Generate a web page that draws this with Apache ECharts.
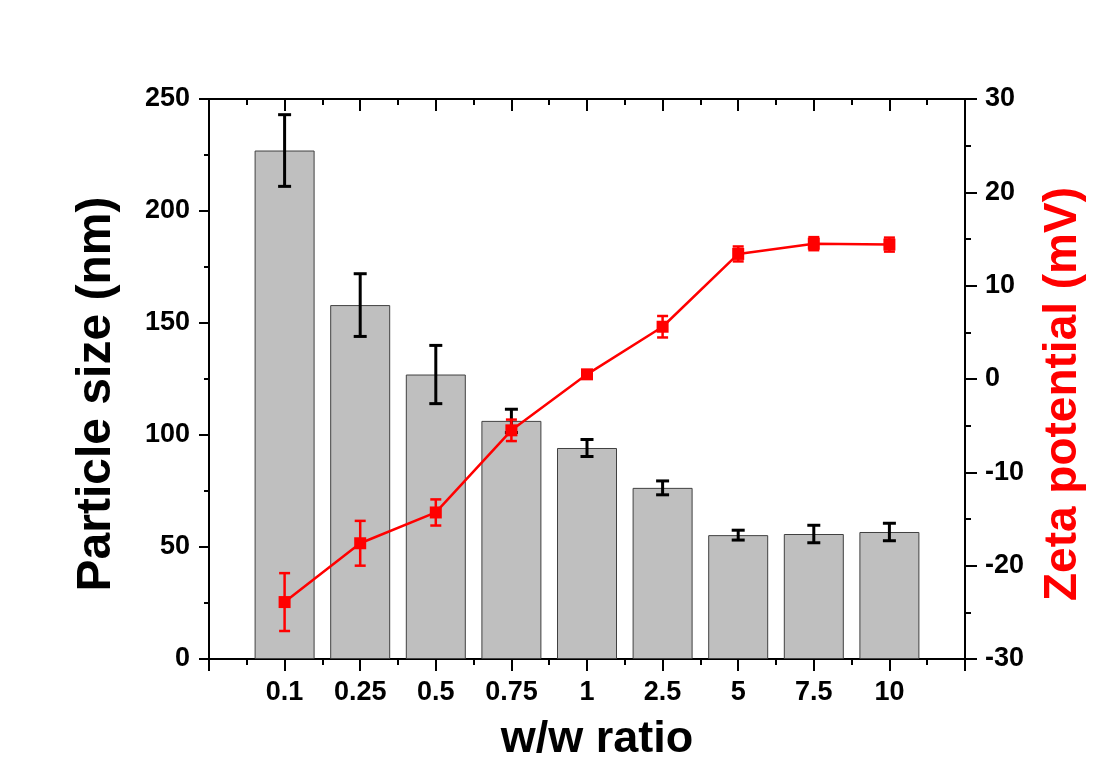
<!DOCTYPE html>
<html>
<head>
<meta charset="utf-8">
<script src="https://cdn.jsdelivr.net/npm/echarts@6/dist/echarts.min.js"></script>
<style>
  html, body { margin: 0; padding: 0; background: #fff; }
  #chart { width: 1104px; height: 778px; }
</style>
</head>
<body>
<div id="chart"></div>
<script>
// ---------- data ----------
const ratios = ['0.1', '0.25', '0.5', '0.75', '1', '2.5', '5', '7.5', '10']
const sizeMean = [227, 158, 127, 106.3, 94.2, 76.4, 55.3, 55.8, 56.7]     // nm
const sizeErr = [16, 14, 13, 5.2, 3.8, 3.1, 2.2, 3.9, 3.9]
const zetaMean = [-23.9, -17.6, -14.3, -5.5, 0.5, 5.6, 13.4, 14.5, 14.4]  // mV
const zetaErr = [3.1, 2.4, 1.4, 1.15, 0.3, 1.15, 0.8, 0.7, 0.75]

const font = "'Liberation Sans', Arial, sans-serif"

// error bar drawn with a custom series: [x, low, high]
function errorBar(capW, color, width) {
  return function (params, api) {
    let x = api.value(0)
    let lo = api.coord([x, api.value(1)])
    let hi = api.coord([x, api.value(2)])
    let h = capW / 2
    let style = { stroke: color, lineWidth: width }
    return {
      type: 'group',
      children: [
        { type: 'line', shape: { x1: hi[0], y1: hi[1], x2: lo[0], y2: lo[1] }, style: style },
        { type: 'line', shape: { x1: hi[0] - h, y1: hi[1], x2: hi[0] + h, y2: hi[1] }, style: style },
        { type: 'line', shape: { x1: lo[0] - h, y1: lo[1], x2: lo[0] + h, y2: lo[1] }, style: style }
      ]
    }
  }
}

let myChart = echarts.init(document.querySelector('#chart'))
const axisLine = { show: true, onZero: false, lineStyle: { color: '#000', width: 2 } }
const tick = (inside) => ({ show: true, inside: inside, length: 12, lineStyle: { color: '#000', width: 2 } })
const minor = () => ({ show: true, splitNumber: 2, length: 6, lineStyle: { color: '#000', width: 2 } })
const tickLabel = { color: '#000', fontFamily: font, fontWeight: 'bold', fontSize: 27 }

let option = {
  animation: false,
  backgroundColor: '#fff',
  grid: { left: 209, right: 139, top: 99, bottom: 119, containLabel: false },
  xAxis: [
    {
      type: 'value',
      position: 'bottom',
      min: 0, max: 10, interval: 1,
      axisLine: axisLine,
      axisTick: tick(false),
      minorTick: minor(),
      splitLine: { show: false },
      axisLabel: Object.assign({}, tickLabel, {
        margin: 20,
        formatter: v => ratios[v - 1] || ''
      }),
      name: 'w/w ratio',
      nameLocation: 'middle',
      nameGap: 58,
      nameTextStyle: { color: '#000', fontFamily: font, fontWeight: 'bold', fontSize: 45, padding: [0, 0, 0, 20] }
    },
    {
      type: 'value',
      position: 'top',
      min: 0, max: 10, interval: 1,
      axisLine: axisLine,
      axisTick: tick(true),
      minorTick: minor(),
      splitLine: { show: false },
      axisLabel: { show: false }
    }
  ],
  yAxis: [
    {
      type: 'value',
      position: 'left',
      min: 0, max: 250, interval: 50,
      axisLine: axisLine,
      axisTick: Object.assign(tick(false), { length: 10 }),
      minorTick: Object.assign(minor(), { length: 5 }),
      splitLine: { show: false },
      axisLabel: Object.assign({}, tickLabel, { margin: 19 }),
      name: 'Particle size (nm)',
      nameLocation: 'middle',
      nameRotate: 90,
      nameGap: 88,
      nameTextStyle: { color: '#000', fontFamily: font, fontWeight: 'bold', fontSize: 48, padding: [0, 30, 0, 0] }
    },
    {
      type: 'value',
      position: 'right',
      min: -30, max: 30, interval: 10,
      axisLine: axisLine,
      axisTick: tick(false),
      minorTick: minor(),
      splitLine: { show: false },
      axisLabel: Object.assign({}, tickLabel, { margin: 20 }),
      name: 'Zeta potential (mV)',
      nameLocation: 'middle',
      nameRotate: 90,
      nameGap: 75,
      nameTextStyle: { color: '#ff0000', fontFamily: font, fontWeight: 'bold', fontSize: 46, padding: [0, 30, 0, 0] }
    }
  ],
  series: [
    {
      name: 'Particle size',
      type: 'bar',
      barWidth: 60,
      z: 2,
      itemStyle: { color: '#bfbfbf', borderColor: '#404040', borderWidth: 1 },
      data: sizeMean.map((v, i) => [i + 1, v])
    },
    {
      type: 'custom',
      z: 3,
      renderItem: errorBar(13, '#000', 3),
      encode: { x: 0, y: [1, 2] },
      data: sizeMean.map((v, i) => [i + 1, v - sizeErr[i], v + sizeErr[i]])
    },
    {
      type: 'custom',
      yAxisIndex: 1,
      z: 4,
      renderItem: errorBar(11, '#ff0000', 2.5),
      encode: { x: 0, y: [1, 2] },
      data: zetaMean.map((v, i) => [i + 1, v - zetaErr[i], v + zetaErr[i]])
    },
    {
      name: 'Zeta potential',
      type: 'line',
      yAxisIndex: 1,
      z: 5,
      symbol: 'rect',
      symbolSize: 12,
      itemStyle: { color: '#ff0000' },
      lineStyle: { color: '#ff0000', width: 2.5 },
      data: zetaMean.map((v, i) => [i + 1, v])
    }
  ]
}
myChart.setOption(option)
</script>
</body>
</html>
